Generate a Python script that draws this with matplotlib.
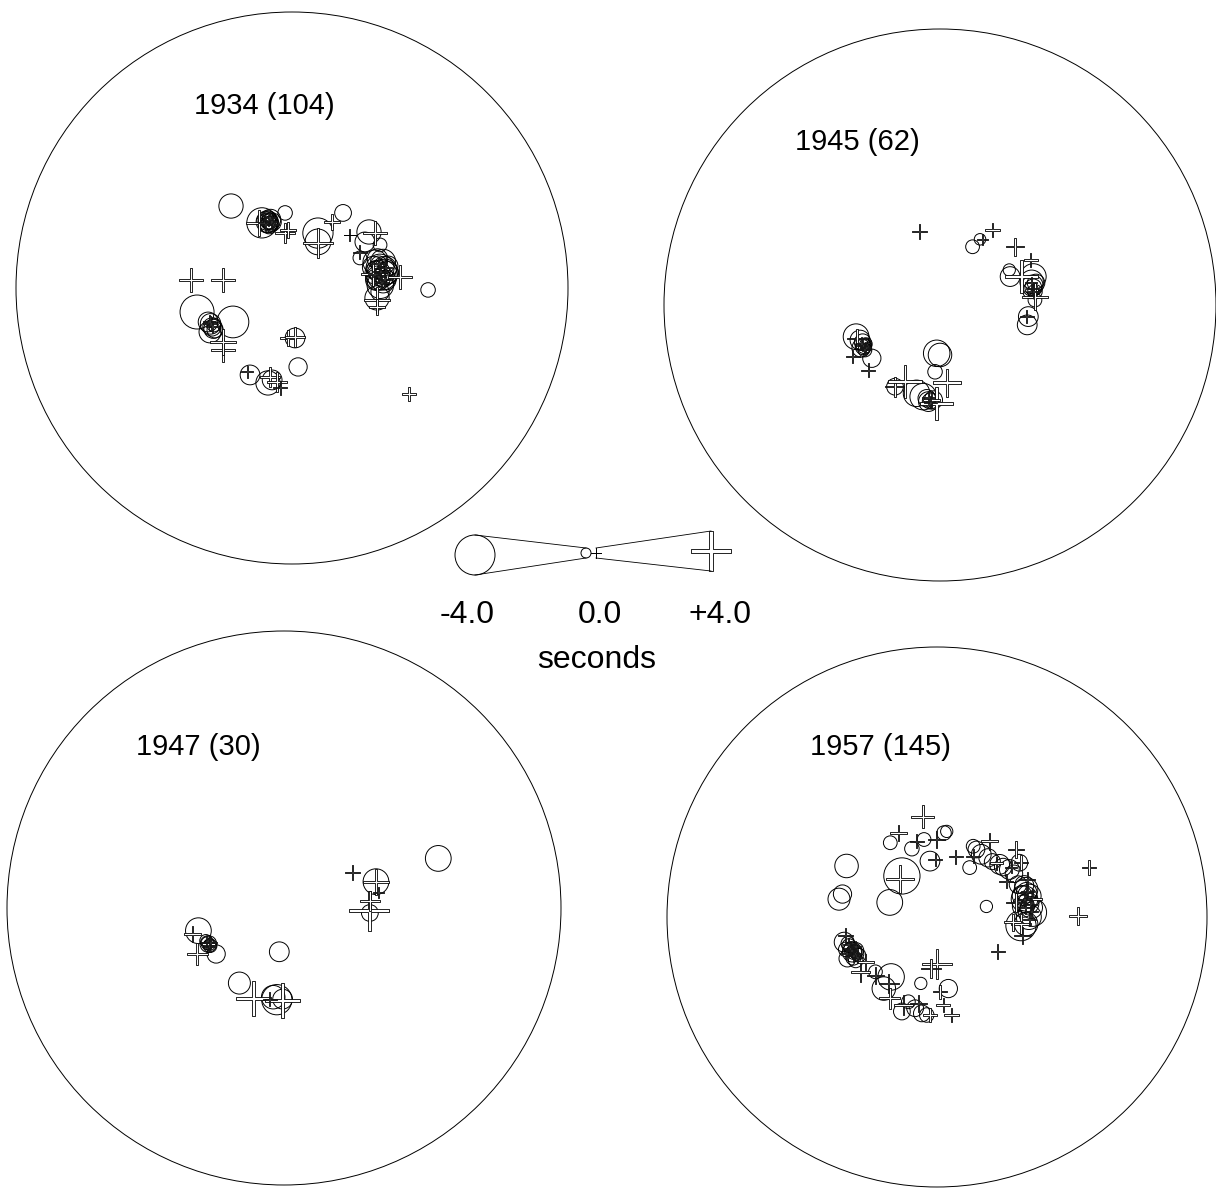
import numpy as np
import matplotlib
matplotlib.use("Agg")
import matplotlib.pyplot as plt
from matplotlib.path import Path
from matplotlib.patches import Circle

plt.rcParams['font.family'] = ['Liberation Sans', 'DejaVu Sans']

# station positions in net units (net radius = 100) and residuals in seconds
# negative residual -> circle, positive residual -> cross
x1934 = [-22.1, -10.9, -9.4, -8.7, -8.0, -7.2, -8.3, -7.6, -2.5, 9.4, 9.4, 18.5, 27.9, 26.4, 31.9, 24.6,
         30.1, 31.9, 33.7, 31.2, 33.0, 34.8, 30.4, 32.6, 34.1, 31.5, 30.8, 31.9, 49.3, -34.4, -21.4,
         -30.4, -29.0, -27.9, -29.7, -28.3, 1.1, 2.2, -15.2, -8.7, -7.2,
         29.5, 33.5, 32.0, 30.5, 34.5, 31.0, 33.0, -9.0, -7.8, -8.3, -29.5, -28.5, 31.0, 33.0, -8.6,
         -36.6, -25.0, -12.0, -10.1, -2.5, -1.4, 9.4, 14.5, 21.0, 30.1, 24.6, 39.1, 29.3, 30.8, 30.8,
         42.4, -29.7, -25.0, -25.0, -1.4, 1.1, -16.3, -8.0, -5.4, -4.3, -8.5, -7.0, 32.0, 33.5,
         31.5, 32.5, 30.0, 34.0, -9.5, -8.0, -28.8, -30.0, 31.5, -7.5]
y1934 = [29.7, 23.6, 24.3, 23.6, 24.3, 23.9, 25.4, 23.2, 27.2, 19.9, 16.7, 27.2, 20.3, 16.7, 15.6, 10.9,
         9.4, 7.2, 5.8, 3.6, 2.2, 8.0, 6.5, 4.7, 2.9, 8.7, -3.6, -1.4, -0.7, -8.7, -12.3,
         -12.3, -14.1, -15.2, -15.9, -13.4, -18.1, -28.6, -31.5, -34.4, -33.3,
         7.5, 7.0, 1.0, 3.0, 5.5, 10.5, 9.5, 24.0, 24.8, 22.8, -13.0, -14.8, 5.5, 4.0, 24.0,
         2.9, 2.9, 23.6, 23.9, 19.9, 21.0, 16.3, 23.9, 19.2, 19.9, 13.0, 4.0, 5.1, -4.3, -6.9,
         -38.4, -12.7, -22.5, -19.6, -18.1, -17.8, -30.4, -32.2, -34.1, -36.2, 24.5, 23.0, 6.0, 3.0,
         9.0, 2.0, 5.0, 7.5, 23.0, 25.5, -14.0, -12.0, 4.0, 24.0]
r1934 = [-1.9, -2.7, -1.1, -1.3, -0.8, -1.1, -0.5, -0.8, -0.6, -2.7, -2.1, -0.9, -1.9, -1.3, -0.5, -0.5,
         -1.9, -2.4, -2.1, -1.9, -1.6, -1.3, -1.1, -2.7, -1.3, -0.8, -1.9, -1.1, -0.6, -3.2, -2.9,
         -1.3, -1.1, -0.8, -1.6, -0.5, -1.3, -1.1, -1.3, -1.9, -1.3,
         -1.6, -1.9, -2.2, -1.5, -1.7, -1.4, -2.0, -1.6, -1.4, -1.0, -1.4, -1.2, -2.0, -1.4, -0.7,
         1.8, 1.9, 2.1, 0.3, 1.3, 0.8, 2.7, 0.8, 0.3, 1.9, 0.5, 1.9, 1.9, 2.1, 0.8,
         0.6, 0.5, 1.9, 2.1, 0.8, 1.3, 0.3, 1.3, 1.3, 0.5, 0.2, 0.4, 0.6, 0.4,
         0.3, 0.5, 0.4, 0.3, 0.3, 0.2, 0.3, 0.2, 0.3, 0.3]

x1945 = [-7.5, 19.1, 15.5, 27.2, 32.9, 29.6, 34.4, 31.4, -30.0, -31.6, -26.0, -16.3, -12.7, 2.4, -1.2, -3.0,
         -28.0, -27.0, 33.5, 34.0, 33.0, -28.5, -27.3, -4.0, -3.4,
         11.8, 14.5, 25.1, 25.4, 33.8, 33.2, 33.8, 34.4, 34.4, 32.0, 31.6, -30.4, -29.0, -27.8, -27.2,
         -28.6, -26.8, -24.7, -1.2, 0.0, -1.8, -16.3, -8.5, -6.1, -4.2, -2.4,
         33.5, 34.8, 32.8, -28.0, -27.5, -4.8, -3.5]
y1945 = [26.6, 27.2, 23.8, 21.1, 16.3, 10.3, 3.0, -4.2, -12.1, -18.7, -23.6, -29.6, -27.8, -28.1, -35.6, -34.4,
         -14.5, -15.5, 6.0, 5.0, 8.0, -13.8, -16.0, -33.5, -35.2,
         21.1, 23.8, 12.7, 10.3, 10.3, 8.4, 6.4, 4.8, 1.8, -4.2, -7.2, -11.5, -12.7, -15.1, -16.3,
         -15.6, -14.1, -19.3, -17.5, -18.1, -24.2, -29.6, -32.0, -33.2, -35.0, -34.4,
         7.0, 8.0, 5.2, -13.5, -14.8, -33.8, -34.8]
r1945 = [0.6, 0.6, 0.1, 1.1, 0.6, 3.1, 2.2, 0.5, 1.3, 0.5, 0.5, 1.3, 3.1, 2.4, 3.1, 0.9,
         0.3, 0.2, 0.5, 0.3, 0.2, 0.2, 0.3, 0.4, 0.3,
         -0.5, -0.2, -0.3, -1.3, -2.1, -1.8, -0.9, -0.6, -0.5, -1.3, -1.3, -2.1, -1.3, -0.8, -0.5,
         -1.1, -0.3, -1.1, -2.2, -1.8, -0.6, -0.9, -2.2, -2.2, -1.3, -1.1,
         -1.5, -1.0, -0.8, -0.9, -0.7, -1.0, -0.8]

x1947 = [55.7, 33.2, 31.0, -30.9, -27.3, -24.5, -1.7, -16.1, -2.6, -0.5, -3.9, -28.2, -26.7, -27.6, -26.9,
         24.8, 33.2, 34.0, 30.8, 31.0, -33.0, -31.3, -27.3, -27.9, -11.1, -0.5, -5.1, -27.0, -26.5]
y1947 = [17.9, 9.5, -1.8, -8.2, -13.0, -16.6, -15.8, -27.1, -33.1, -32.9, -32.2, -11.8, -13.6, -12.7, -13.3,
         12.9, 9.3, 5.7, -1.0, 2.6, -9.4, -16.6, -13.0, -12.4, -32.6, -33.5, -32.9, -13.8, -12.6]
r1947 = [-2.1, -2.1, -0.9, -2.1, -0.9, -1.1, -1.3, -1.6, -2.7, -1.3, -1.8, -0.3, -0.5, -0.4, -0.2,
         0.6, 2.1, 0.1, 4.0, 1.3, 0.9, 1.5, 0.4, 0.3, 3.3, 3.3, 0.5, 0.2, 0.3]

x1957 = [-5.3, -14.2, -13.6, -7.5, -0.7, -0.1, 7.0, 13.4, 19.5, 29.3, 31.1, 33.6, 35.4, 29.3, 25.6, 56.3,
         52.3, 22.5, 31.1, 28.1, 31.7, -33.8, -28.3, -26.5, -22.8, -17.9, -17.5, -0.1, -2.3, 1.1, 2.3,
         5.4, -2.6, -12.4, -6.9, -32.0, -30.5, -29.5, 33.0, 34.5,
         33.5, 32.8, 34.2, -32.7, -31.0, -30.2, 22.0, 27.5, 32.5, 35.0, -31.5, -33.5,
         -33.5, -36.3, -35.0, -13.0, -17.5, -17.3, -9.3, -4.8, -2.6, 2.6, 3.6, 12.1, 14.6, 16.4, 18.9,
         23.2, 26.8, 30.5, 33.0, 34.2, 32.4, 35.4, 31.1, 33.0, 18.3, 13.4, -34.4, -31.4, -32.6, -30.1,
         -28.9, -33.2, -30.1, -22.8, -17.0, -19.7, -6.0, 4.2, -13.0, -10.6, -8.1, -5.6, -3.8,
         33.2, 32.0, 34.0, 32.3, -31.8, -30.8, -29.5, -33.0, 24.5, 28.5,
         33.8, 31.5, 35.0, 30.0, -33.8, -31.0, 20.5]
y1957 = [37.2, 31.1, 14.0, 28.1, 21.3, 28.7, 22.3, 22.5, 28.1, 25.0, 20.1, 14.0, 6.6, 5.4, 13.3, 18.3,
         0.3, -12.8, -2.6, -1.9, -6.9, -6.9, -20.3, -16.7, -21.6, -24.6, -30.1, -17.3, -19.1, -27.7, -32.6,
         -36.3, -36.3, -32.6, -32.0, -11.5, -13.5, -15.0, 9.0, 4.5,
         9.5, 3.5, -1.0, -10.2, -14.2, -11.0, 20.0, 18.5, 6.5, 2.0, -12.5, -13.5,
         18.9, 6.6, 8.5, 15.2, 5.4, 27.5, 25.3, 28.7, 20.7, 31.1, 31.7, 18.3, 25.0, 23.2, 21.9,
         19.5, 17.6, 20.1, 10.3, 7.8, 6.6, 1.7, -3.2, -2.6, 3.9, 26.2, -9.3, -13.0, -10.6, -12.4,
         -14.2, -15.4, -16.1, -20.3, -22.2, -26.5, -24.6, -26.5, -35.0, -31.4, -33.8, -35.7, -36.3,
         9.0, 4.0, 0.0, 11.8, -11.8, -12.9, -13.6, -9.8, 18.5, 16.0,
         5.0, 8.0, 3.5, 12.0, -12.0, -15.0, 20.5]
r1957 = [1.8, 0.9, 2.4, 0.5, 0.5, 0.9, 0.5, 0.5, 0.9, 0.9, 0.6, 0.6, 1.3, 1.3, 0.5, 0.6,
         1.1, 0.6, 1.3, 0.9, 0.9, 0.6, 1.3, 0.9, 0.9, 1.3, 1.5, 2.7, 1.3, 0.5, 0.5,
         0.6, 0.6, 1.3, 0.9, 0.3, 0.4, 0.2, 0.4, 0.5,
         0.3, 0.5, 0.4, 0.3, 0.4, 0.2, 0.4, 0.3, 0.5, 0.3, 0.3, 0.2,
         -1.8, -1.6, -1.1, -3.5, -2.1, -0.5, -0.6, -0.5, -1.3, -0.6, -0.3, -0.5, -0.9, -1.3, -1.1,
         -1.3, -1.3, -0.9, -1.8, -1.8, -2.2, -2.4, -2.7, -1.8, -0.3, -0.5, -1.3, -1.3, -0.5, -0.8,
         -0.5, -0.9, -0.6, -0.5, -2.2, -1.8, -0.3, -1.1, -0.9, -0.5, -0.9, -0.9, -0.6,
         -1.4, -1.6, -2.0, -1.2, -0.6, -0.7, -0.4, -0.5, -1.0, -1.0,
         -1.5, -1.3, -1.6, -1.0, -0.6, -0.7, -0.8]

years = ["1934 (104)", "1945 (62)", "1947 (30)", "1957 (145)"]
legend_res = [-4.0, 0.0, 4.0]
legend_labels = ["-4.0", "0.0", "+4.0"]

W, H, DPI = 1216, 1188, 100

# thin outlined cross
cw = 0.08
cross = Path([(-cw, 1), (cw, 1), (cw, cw), (1, cw), (1, -cw), (cw, -cw), (cw, -1), (-cw, -1),
              (-cw, -cw), (-1, -cw), (-1, cw), (-cw, cw), (-cw, 1)], closed=True)


def rad_px(r):
    # symbol half-size in pixels for a residual of r seconds
    return 5 + 3.75 * np.abs(r)


def size_pt(r):
    return 2 * rad_px(r) * 72 / DPI


def draw_marks(ax, xs, ys, res):
    xs, ys, res = np.asarray(xs), np.asarray(ys), np.asarray(res)
    neg = res < 0
    ax.scatter(xs[neg], ys[neg], s=size_pt(res[neg]) ** 2, marker='o', facecolors='none',
               edgecolors='black', linewidths=0.7, clip_on=False, zorder=3)
    ax.scatter(xs[~neg], ys[~neg], s=size_pt(res[~neg]) ** 2, marker=cross, facecolors='white',
               edgecolors='black', linewidths=0.6, clip_on=False, zorder=4)


fig = plt.figure(figsize=(W / DPI, H / DPI), dpi=DPI)

# (center x, center y, radius) of each net in pixels, and title position in net units
nets = [((292, 288, 276), (-10, 66)),
        ((940, 305, 276), (-30, 59)),
        ((284, 908, 277), (-31, 58)),
        ((937, 917, 270), (-21, 63))]
data = [(x1934, y1934, r1934), (x1945, y1945, r1945), (x1947, y1947, r1947), (x1957, y1957, r1957)]

for ((cx, cy, R), (tx, ty)), (xs, ys, res), label in zip(nets, data, years):
    ax = fig.add_axes([(cx - R) / W, 1 - (cy + R) / H, 2 * R / W, 2 * R / H])
    ax.set_xlim(-100, 100)
    ax.set_ylim(-100, 100)
    ax.axis('off')
    ax.add_patch(Circle((0, 0), 100, fill=False, lw=0.7, ec='black', clip_on=False))
    draw_marks(ax, xs, ys, res)
    ax.text(tx, ty, label, ha='center', va='center', fontsize=21)

# scale legend in pixel coordinates
lg = fig.add_axes([0, 0, 1, 1], facecolor='none')
lg.set_xlim(0, W)
lg.set_ylim(H, 0)
lg.axis('off')

lx = [475, 586, 596, 711]
ly = [555, 553, 553, 551]
lr = [legend_res[0], -legend_res[1], legend_res[1], legend_res[2]]
lg.scatter(lx[:2], ly[:2], s=size_pt(np.array(lr[:2])) ** 2, marker='o', facecolors='none',
           edgecolors='black', linewidths=0.7)
lg.scatter(lx[2:], ly[2:], s=size_pt(np.array(lr[2:])) ** 2, marker=cross, facecolors='white',
           edgecolors='black', linewidths=0.6)
for a, b in [(0, 1), (2, 3)]:
    for sgn in (-1, 1):
        lg.plot([lx[a], lx[b]], [ly[a] + sgn * rad_px(lr[a]), ly[b] + sgn * rad_px(lr[b])],
                color='black', lw=0.6)

for xpos, lab in zip([467, 600, 720], legend_labels):
    lg.text(xpos, 615, lab, ha='center', va='center', fontsize=23)
lg.text(597, 660, "seconds", ha='center', va='center', fontsize=23)

fig.savefig("out.png", dpi=DPI)
